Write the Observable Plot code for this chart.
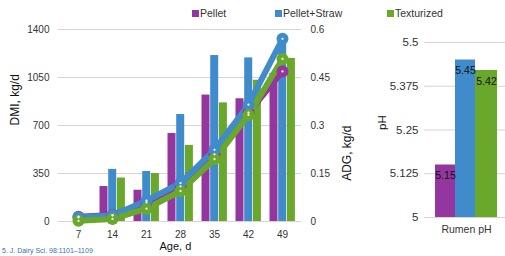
<!DOCTYPE html>
<html>
<head>
<meta charset="utf-8">
<script src="https://cdn.jsdelivr.net/npm/d3@7"></script>
<script src="https://cdn.jsdelivr.net/npm/@observablehq/plot@0.6"></script>
<style>
  html, body { margin: 0; padding: 0; background: #fff; overflow: hidden; }
  body { width: 505px; height: 256px; position: relative; font-family: "Liberation Sans", Arial, sans-serif; }
  .abs { position: absolute; }
  .leg { position: absolute; top: 6px; font-size: 10.5px; color: #333; white-space: nowrap; line-height: 14px; }
  .leg span.sw { display: inline-block; width: 7px; height: 7px; margin-right: 1px; vertical-align: 0px; }
  .foot { position: absolute; left: 2px; top: 247px; font-size: 7px; line-height: 8px; color: #3a6fb5; white-space: nowrap; }
</style>
</head>
<body>
<div id="left" class="abs" style="left:0;top:0"></div>
<div id="right" class="abs" style="left:360px;top:0"></div>
<div id="legend"></div>
<div class="foot">5. J. Dairy Sci. 98:1101–1109</div>
<script>
// ---- data ----
const ages = [7, 14, 21, 28, 35, 42, 49];
const series = ["Pellet", "Pellet+Straw", "Texturized"];
const colors = ["#93379f", "#3f8bcb", "#6aa82c"];

// DMI (kg/d, left axis) bars
const dmiPellet = [0, 255, 228, 642, 922, 895, 1080];
const dmiStraw  = [0, 380, 365, 780, 1210, 1193, 1320];
const dmiTex    = [0, 317, 350, 555, 865, 1030, 1189];

// ADG (kg/d, right axis) lines
const adgPellet = [0.015, 0.02, 0.06, 0.11, 0.21, 0.34, 0.469];
const adgStraw  = [0.013, 0.019, 0.065, 0.12, 0.224, 0.365, 0.571];
const adgTex    = [0.002, 0.008, 0.04, 0.095, 0.195, 0.333, 0.508];

const dmiTicks = [0, 350, 700, 1050, 1400];
const adgTicks = [0, 0.15, 0.3, 0.45, 0.6];

// Rumen pH
const phCategory = "Rumen pH";
const phValues = [5.15, 5.45, 5.42];
const phTicks = [5, 5.125, 5.25, 5.375, 5.5];

// ---- build tables ----
const dmiBy = [dmiPellet, dmiStraw, dmiTex];
const adgBy = [adgPellet, adgStraw, adgTex];
const k = 1400 / 0.6; // ADG -> DMI axis units
const bars = series.map((s, i) => ages.map((a, j) => ({series: s, age: a, dmi: dmiBy[i][j]})));
const lines = series.map((s, i) => ages.map((a, j) => ({series: s, age: a, adg: adgBy[i][j], yv: adgBy[i][j] * k})));
const allLines = lines.flat();

const font = "Liberation Sans, Arial, sans-serif";
const grid = "#dcd2d0";

// Band step ≈ 34.7px; bar widths ≈ 8.7px
const inL = [4.5, 13.2, 21.9];
const inR = [21.5, 12.8, 4.1];

const left = Plot.plot({
  width: 360, height: 256,
  marginLeft: 58, marginRight: 59, marginTop: 29, marginBottom: 35,
  style: {fontFamily: font, fontSize: "10px", color: "#333", background: "transparent"},
  x: {type: "band", domain: ages, padding: 0, axis: null},
  y: {domain: [0, 1400], axis: null},
  marks: [
    Plot.ruleY(dmiTicks, {stroke: grid, strokeWidth: 1}),
    ...series.map((s, i) => Plot.barY(bars[i].filter(d => d.dmi > 0), {x: "age", y: "dmi", fill: colors[i], insetLeft: inL[i], insetRight: inR[i]})),
    Plot.axisY(dmiTicks, {anchor: "left", tickSize: 0, tickPadding: 9, label: null, fontSize: 10, tickFormat: d => String(d)}),
    Plot.axisY(adgTicks.map(t => t * k), {anchor: "right", tickSize: 0, tickPadding: 9, label: null, fontSize: 10,
      tickFormat: d => String(Math.round(d / k * 100) / 100)}),
    Plot.axisX(ages, {anchor: "bottom", tickSize: 0, tickPadding: 9, label: null, fontSize: 10, tickFormat: d => String(d)}),
    ...series.map((s, i) => Plot.line(lines[i], {x: "age", y: "yv", stroke: colors[i], strokeWidth: 6, strokeLinejoin: "round", strokeLinecap: "round"})),
    ...series.map((s, i) => Plot.dot(lines[i], {x: "age", y: "yv", fill: colors[i], r: 6, stroke: "none"})),
    Plot.dot(allLines, {x: "age", y: "yv", fill: "white", r: 1.1, stroke: "none"}),
    Plot.text(["DMI, kg/d"], {frameAnchor: "left", dx: -43, rotate: -90, fontSize: 12, fill: "#111"}),
    Plot.text(["ADG, kg/d"], {frameAnchor: "right", dx: 46, rotate: -90, fontSize: 12, fill: "#111"}),
    Plot.text(["Age, d"], {frameAnchor: "bottom-left", dx: 101, dy: 28, fontSize: 11, fill: "#111"})
  ]
});
document.getElementById("left").appendChild(left);

const phData = series.map((s, i) => ({series: s, cat: phCategory, ph: phValues[i]}));
const pInL = [11, 31, 51];
const pInR = [50, 30, 8];
const right = Plot.plot({
  width: 145, height: 256,
  marginLeft: 64, marginRight: 0, marginTop: 42, marginBottom: 39,
  style: {fontFamily: font, fontSize: "11px", color: "#333", background: "transparent"},
  x: {type: "band", domain: [phCategory], padding: 0, axis: null},
  y: {domain: [5, 5.5], axis: null},
  marks: [
    Plot.ruleY(phTicks, {stroke: grid, strokeWidth: 1}),
    ...series.map((s, i) => Plot.barY([phData[i]], {x: "cat", y1: 5, y2: "ph", fill: colors[i], insetLeft: pInL[i], insetRight: pInR[i]})),
    ...series.map((s, i) => Plot.text([phData[i]], {x: "cat", y: "ph", text: d => d.ph.toFixed(2), dx: (pInL[i] - pInR[i]) / 2, dy: 11, fontSize: 10.5, fill: "#111"})),
    Plot.axisY(phTicks, {anchor: "left", tickSize: 0, tickPadding: 6, label: null, fontSize: 11.5, tickFormat: d => String(d)}),
    Plot.axisX([phCategory], {anchor: "bottom", tickSize: 0, tickPadding: 8, label: null, fontSize: 10.5, dx: 1.5}),
    Plot.text(["pH"], {frameAnchor: "left", dx: -42, rotate: -90, fontSize: 11.5, fill: "#111"})
  ]
});
document.getElementById("right").appendChild(right);

// legend
const legPos = [192, 275, 387];
const legEl = document.getElementById("legend");
series.forEach((s, i) => {
  const d = document.createElement("div");
  d.className = "leg";
  d.style.left = legPos[i] + "px";
  d.innerHTML = `<span class="sw" style="background:${colors[i]}"></span>${s}`;
  legEl.appendChild(d);
});
</script>
</body>
</html>
